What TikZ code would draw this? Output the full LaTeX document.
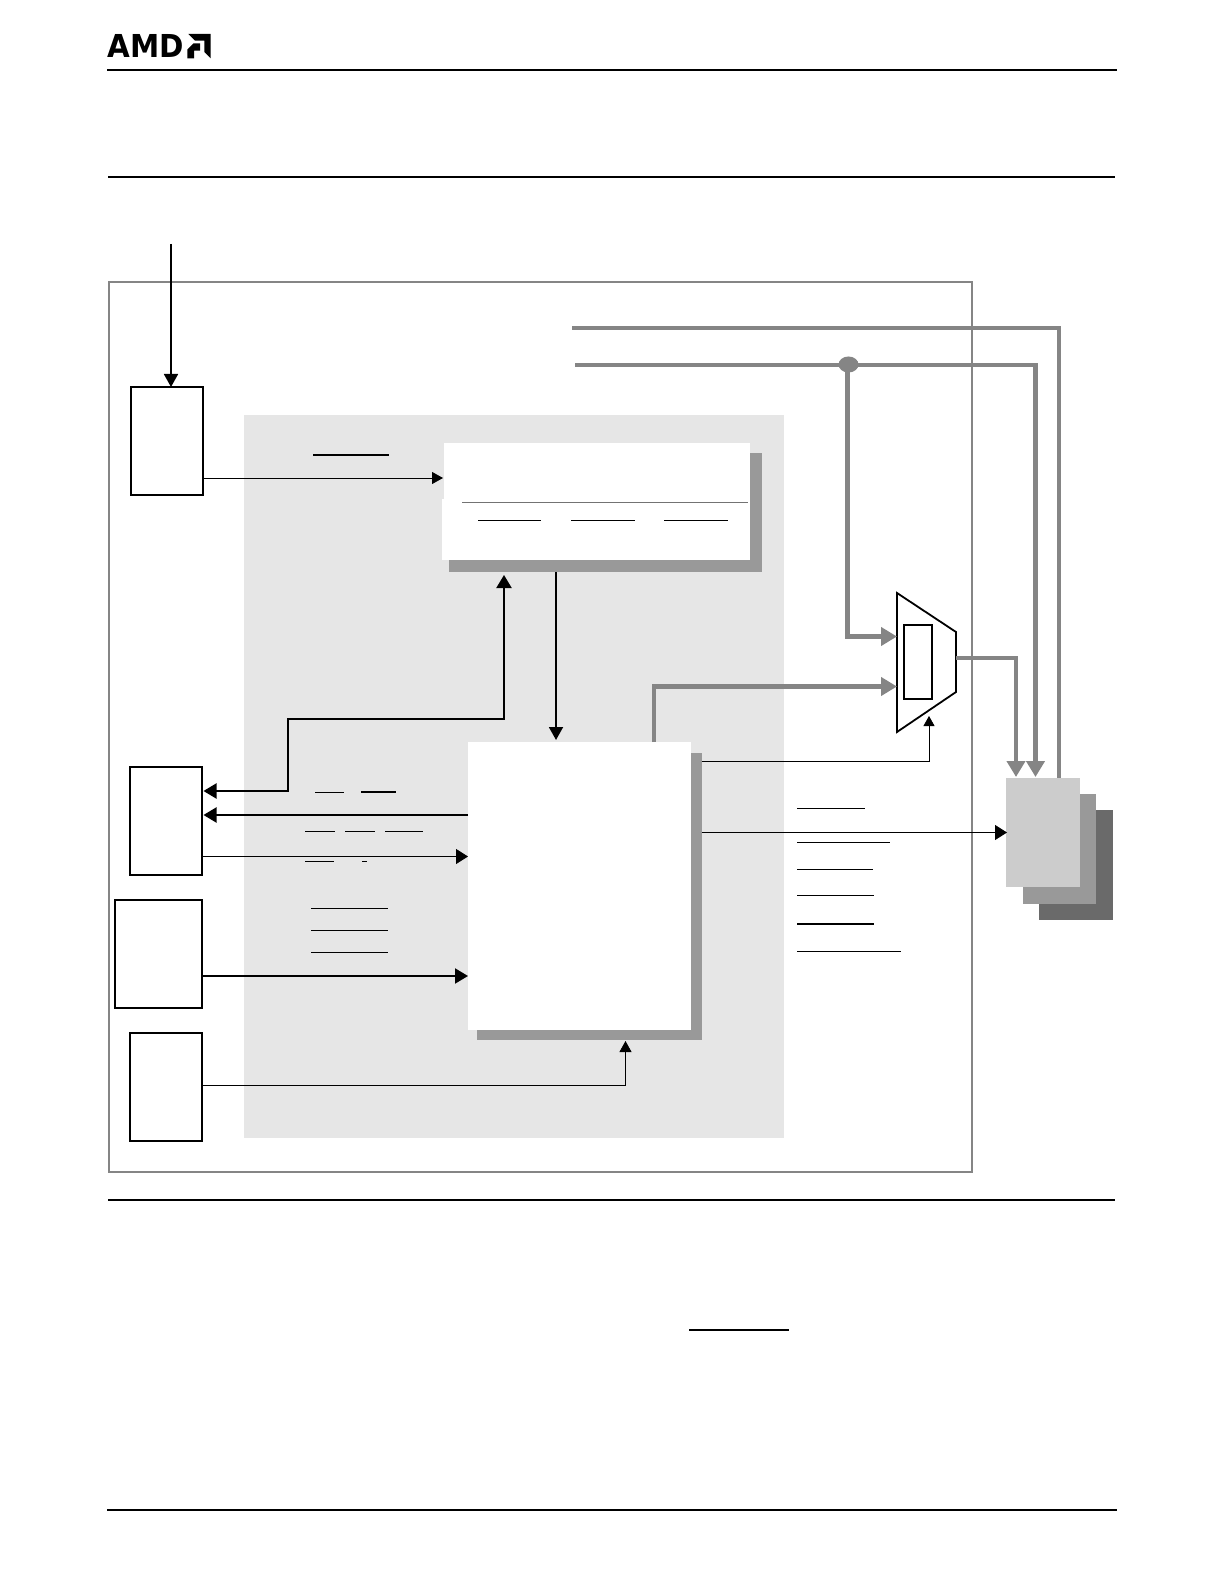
\documentclass[tikz,border=0pt]{standalone}
\usepackage{fontspec}
\setmainfont{Liberation Sans}
\newfontfamily\logofont{DejaVu Sans}
\usetikzlibrary{arrows.meta,fit,calc,shapes.geometric}
\definecolor{panelgray}{HTML}{E6E6E6}
\definecolor{shadowgray}{HTML}{999999}
\definecolor{busgray}{HTML}{858585}
\definecolor{frontgray}{HTML}{CCCCCC}
\definecolor{backgray}{HTML}{6A6A6A}
\tikzset{
  x=0.5pt,y=-0.5pt,
  region/.style={fit={#1},inner sep=0pt,outer sep=0pt,minimum size=0pt},
  blockbox/.style={draw=black,line width=1pt,fill=white},
  framebox/.style={draw=busgray,line width=1pt},
  panel/.style={fill=panelgray},
  shadowbox/.style={fill=shadowgray},
  whitebox/.style={fill=white},
  rule/.style={line width=1pt,black},
  bar/.style={line width=0.5pt,black},
  thickbar/.style={line width=0.9pt,black},
  smallarrow/.style={line width=0.4pt,black,-{Triangle[length=5.5pt,width=6pt]}},
  tinyarrow/.style={line width=0.4pt,black,-{Triangle[length=5pt,width=5.5pt]}},
  thinarrow/.style={line width=0.45pt,black,-{Triangle[length=6pt,width=7.5pt]}},
  thickarrow/.style={line width=1pt,black,-{Triangle[length=6.5pt,width=7.5pt]}},
  dblarrow/.style={line width=1pt,black,{Triangle[length=6.5pt,width=7.5pt]}-{Triangle[length=6.5pt,width=7.5pt]}},
  busline/.style={line width=2.4pt,busgray},
  busarrow/.style={line width=2.4pt,busgray,-{Triangle[length=8pt,width=9pt]}},
}
\begin{document}
\begin{tikzpicture}
\useasboundingbox (0,0) rectangle (1224,1582);
% header logo
\node[anchor=base west,inner sep=0pt,font=\logofont\fontsize{15.8}{16}\selectfont\bfseries] (logo) at (107,58) {\scalebox{0.93}[1]{AMD}};
\fill (188.3,34) -- (210.7,34) -- (210.7,58.3) -- (204.3,52) -- (204.3,40.7) -- (195,40.7) -- cycle;
\fill (200,43.5) -- (193.3,43.5) -- (187.3,49.5) -- (187.3,58.3) -- (194,58.3) -- (194,50.7) -- (200,50.7) -- cycle;
% page rules
\draw[rule] (107,70.3) -- (1117,70.3);
\draw[rule] (108,177.3) -- (1115,177.3);
\draw[rule] (108,1200) -- (1115,1200);
\draw[rule] (107,1510) -- (1117,1510);
\draw[thickbar] (689,1330) -- (789,1330);
% frame and panel
\node[region={(108.5,282)(972,1172)},framebox] (frame) {};
\node[region={(244,415)(784,1138)},panel] (core) {};
% shadow and white boxes
\node[region={(449,453)(762,572)},shadowbox] (topshadow) {};
\node[region={(444,443)(750,560)},whitebox] (top) {};
\node[region={(442,499)(450,560)},whitebox] (topleft) {};
\node[region={(477,753)(701.5,1040)},shadowbox] (mainshadow) {};
\node[region={(468,742)(691,1030)},whitebox] (main) {};
% left blocks
\node[region={(131,387)(203,495)},blockbox] (b1) {};
\node[region={(130,767)(202,875)},blockbox] (b2) {};
\node[region={(115,900)(202,1008)},blockbox] (b3) {};
\node[region={(130,1033)(202,1141)},blockbox] (b4) {};
% stack
\node[region={(1039,810)(1113,920)},fill=backgray] (s3) {};
\node[region={(1023,794)(1096,904)},fill=shadowgray] (s2) {};
\node[region={(1006,778)(1080,887)},fill=frontgray] (s1) {};
% text bars
\draw[thickbar] (313,455) -- (389,455);
\draw[line width=0.5pt,black!55] (462,502.5) -- (748,502.5);
\foreach \a/\b in {478/541,571/635,664/728} \draw[bar] (\a,520.5) -- (\b,520.5);
\draw[bar] (315,792.5) -- (344,792.5);
\draw[thickbar] (361,792) -- (396,792);
\foreach \a/\b in {305/335,345/375,385/423} \draw[bar] (\a,831) -- (\b,831);
\draw[bar] (305,861) -- (334,861);
\draw[bar] (362,861) -- (367,861);
\foreach \yy in {908,930,952} \draw[bar] (311,\yy) -- (388,\yy);
\draw[bar] (797,808) -- (865,808);
\draw[bar] (797,842) -- (890,842);
\draw[bar] (797,869) -- (873,869);
\draw[bar] (797,895) -- (874,895);
\draw[thickbar] (797,924) -- (874,924);
\draw[bar] (797,951.5) -- (901,951.5);
% mux
\coordinate (m1) at (897,593);
\coordinate (m2) at (956,632);
\coordinate (m3) at (956,692);
\coordinate (m4) at (897,732);
\draw[line width=0.9pt,fill=white] (m1) -- (m2) -- (m3) -- (m4) -- cycle;
\node[region={(904,625)(932,699)},blockbox] (mreg) {};
% free ends and junction
\coordinate (start) at (171,244);
\coordinate (bus1) at (572,328);
\coordinate (bus2) at (575,365);
\node[ellipse,fill=busgray,inner sep=0pt,minimum width=10pt,minimum height=8pt] (dot) at (848.5,364.5) {};
\coordinate (drop) at (847.5,365);
\coordinate (in1) at (897,636.5);
\coordinate (in2) at (897,686.5);
\coordinate (out) at (956,658);
\coordinate (muxsel) at (929,716);
\coordinate (s1a) at (1016,777);
\coordinate (s1b) at (1035.5,777);
\coordinate (s1c) at (1059,778);
\coordinate (topin) at (443,478);
\coordinate (topup) at (504,575);
\coordinate (topdown) at (556,572);
\coordinate (maintop) at (556,740);
\coordinate (mainbot) at (625.5,1041);
\coordinate (b2a) at (203.5,791);
\coordinate (b2b) at (203.5,815);
\coordinate (stackin) at (1007,832.5);
% connectors
\draw[line width=0.9pt,-{Triangle[length=6.5pt,width=7pt]}] (start) -- (start |- b1.north);
\draw[smallarrow] (b1.east |- topin) -- (topin);
\draw[dblarrow] (b2a) -- (288,791) -- (288,719) -- (504,719) -- (topup);
\draw[line width=0.9pt,-{Triangle[length=6.5pt,width=7pt]}] (topdown) -- (maintop);
\draw[thickarrow] (main.west |- b2b) -- (b2b);
\draw[thinarrow] (b2.east |- 0,856.5) -- (main.west |- 0,856.5);
\draw[thickarrow] (b3.east |- 0,976) -- (main.west |- 0,976);
\draw[smallarrow] (b4.east |- 0,1085) -- (mainbot |- 0,1085) -- (mainbot);
\draw[tinyarrow] (mainshadow.east |- 0,761) -- (muxsel |- 0,761) -- (muxsel);
\draw[thinarrow] (mainshadow.east |- 0,832.5) -- (stackin);
\draw[busline] (bus1) -- (s1c |- bus1) -- (s1c);
\draw[busarrow] (bus2) -- (s1b |- bus2) -- (s1b);
\draw[busarrow] (drop) -- (drop |- in1) -- (in1);
\draw[busarrow] (654,742) -- (654,686.5) -- (in2);
\draw[busarrow] (out) -- (s1a |- out) -- (s1a);
\end{tikzpicture}
\end{document}
